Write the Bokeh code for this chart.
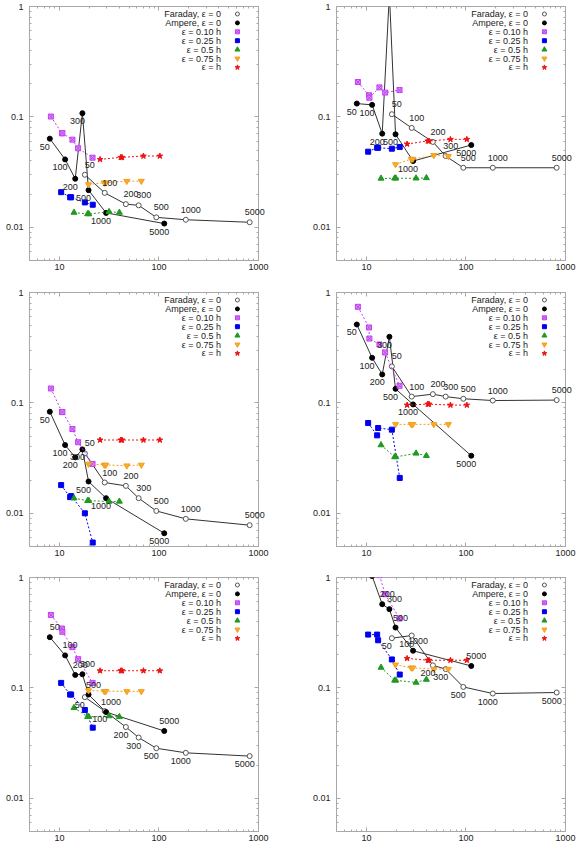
from bokeh.plotting import figure
from bokeh.layouts import gridplot
from bokeh.models import FixedTicker, LogAxis, Range1d, LinearScale
from bokeh.core.properties import value
from bokeh.embed import file_html
from bokeh.resources import INLINE

# mesh sizes that annotate the Faraday / Ampere curves
N_LABELS = ["50", "100", "200", "300", "500", "1000", "5000"]

# abscissae of each series (shared by the six panels)
FARADAY_X = [18.0, 28.5, 46.5, 62.5, 94.0, 186.0, 815.0]
AMPERE_X = [8.0, 11.4, 14.4, 17.0, 19.6, 29.4, 113.0]
EPS010_X = [8.2, 10.6, 10.7, 13.5, 15.4, 21.5]
EPS025_X = [10.4, 12.8, 13.1, 18.0, 21.6]
EPS050_X = [14.0, 19.2, 19.7, 31.5, 40.0]
EPS075_X = [19.6, 28.2, 29.2, 47.5, 66.5]
EPSH_X = [25.6, 41.3, 42.5, 69.8, 102.0]

# ordinates, one row per panel (row-major: top-left, top-right, ...)
FARADAY_Y = [
    [0.0299, 0.0205, 0.0162, 0.0158, 0.0123, 0.0117, 0.0111],
    [0.1057, 0.0794, 0.0593, 0.0442, 0.0346, 0.0346, 0.0346],
    [0.0349, 0.0190, 0.0177, 0.0137, 0.0105, 0.0089, 0.0078],
    [0.214, 0.114, 0.120, 0.114, 0.109, 0.105, 0.106],
    [0.0824, 0.0616, 0.0442, 0.0355, 0.0284, 0.0258, 0.0241],
    [0.282, 0.298, 0.160, 0.148, 0.102, 0.0889, 0.0908],
]
AMPERE_Y = [
    [0.0635, 0.0412, 0.0275, 0.108, 0.0217, 0.0135, 0.0108],
    [0.132, 0.1285, 0.0705, 1.3, 0.0695, 0.0398, 0.0556],
    [0.0832, 0.0415, 0.0321, 0.0379, 0.0194, 0.0137, 0.00659],
    [0.513, 0.256, 0.181, 0.397, 0.134, 0.0969, 0.0332],
    [0.288, 0.197, 0.131, 0.133, 0.087, 0.0604, 0.0407],
    [1.8, 1.03, 0.573, 0.517, 0.352, 0.217, 0.158],
]
EPS010_Y = [
    [0.1007, 0.0711, 0.0711, 0.0622, 0.0519, 0.0427],
    [0.207, 0.157, 0.149, 0.185, 0.166, 0.175],
    [0.135, 0.0826, 0.0826, 0.058, 0.044, 0.028],
    [0.742, 0.482, 0.383, 0.338, 0.286, 0.143],
    [0.458, 0.345, 0.322, 0.234, 0.182, 0.111],
    [3.0, 2.2, 2.0, 1.05, 0.706, 0.425],
]
EPS025_Y = [
    [0.0208, 0.0187, 0.0187, 0.0168, 0.0160],
    [0.0484, 0.0526, 0.0526, 0.0515, 0.0534],
    [0.0180, 0.0140, 0.0143, 0.0100, 0.00543],
    [0.0657, 0.0508, 0.0592, 0.0572, 0.0209],
    [0.111, 0.087, 0.087, 0.063, 0.0436],
    [0.304, 0.304, 0.270, 0.181, 0.132],
]
EPS050_Y = [
    [0.0136, 0.0132, 0.0132, 0.0138, 0.0136],
    [0.0277, 0.0278, 0.0278, 0.0278, 0.0280],
    [0.0137, 0.0130, 0.0130, 0.0128, 0.0128],
    [0.0415, 0.0324, 0.0324, 0.0349, 0.0332],
    [0.066, 0.0548, 0.0548, 0.0556, 0.0547],
    [0.153, 0.117, 0.117, 0.112, 0.119],
]
EPS075_Y = [
    [0.0244, 0.0253, 0.0253, 0.0262, 0.0262],
    [0.0371, 0.0415, 0.0415, 0.0449, 0.0439],
    [0.0280, 0.0274, 0.0274, 0.0270, 0.0274],
    [0.0639, 0.0639, 0.0639, 0.0639, 0.0639],
    [0.0946, 0.0933, 0.0933, 0.0930, 0.0930],
    [0.162, 0.152, 0.152, 0.148, 0.148],
]
EPSH_Y = [
    [0.0412, 0.0430, 0.0430, 0.0442, 0.0442],
    [0.0568, 0.0605, 0.0605, 0.0626, 0.0626],
    [0.0461, 0.0461, 0.0461, 0.0461, 0.0461],
    [0.0955, 0.0975, 0.0975, 0.0955, 0.0955],
    [0.143, 0.143, 0.143, 0.143, 0.143],
    [0.185, 0.178, 0.178, 0.178, 0.178],
]

LEGEND_LABELS = ["Faraday, \u03b5 = 0", "Ampere, \u03b5 = 0", "\u03b5 = 0.10 h",
                 "\u03b5 = 0.25 h", "\u03b5 = 0.5 h", "\u03b5 = 0.75 h", "\u03b5 = h"]

FONT = value("Liberation Sans")
FRAME = "#a8a8a8"
TEXT = "#222222"
Y_TOP = 1.0

# styling of the coloured ε series: (x, y rows, marker, size, fill, line)
EPS_SERIES = [
    (EPS010_X, EPS010_Y, "square_x", 5, "#e08cff", "#c040f0"),
    (EPS025_X, EPS025_Y, "square", 5, "#0000ee", "#0000ee"),
    (EPS050_X, EPS050_Y, "triangle", 6, "#229922", "#229922"),
    (EPS075_X, EPS075_Y, "inverted_triangle", 6, "#ffaa22", "#f0a020"),
    (EPSH_X, EPSH_Y, "star", 6, "#ee1111", "#ee1111"),
]

X_MAJOR = [10, 100, 1000]
X_MINOR = ([m for m in range(5, 10)] + [m * 10 for m in range(2, 10)]
           + [m * 100 for m in range(2, 10)])
Y_MAJOR = [0.01, 0.1, 1]
Y_MINOR = ([m * 0.001 for m in range(5, 10)] + [m * 0.01 for m in range(2, 10)]
           + [m * 0.1 for m in range(2, 10)])


def style_axis(ax, labels=True):
    ax.axis_line_color = None
    ax.major_tick_in = 4
    ax.major_tick_out = 0
    ax.minor_tick_in = 2
    ax.minor_tick_out = 0
    ax.major_tick_line_color = FRAME
    ax.minor_tick_line_color = FRAME
    if labels:
        ax.major_label_text_font_size = "9px"
        ax.major_label_text_font = "Liberation Sans"
        ax.major_label_text_color = TEXT
    else:
        # mirrored tick marks only
        ax.major_label_text_font_size = "1px"
        ax.major_label_text_alpha = 0
        ax.major_label_standoff = 0


def mesh_labels(p, xs, ys, dx, dy):
    # annotate each point inside the vertical range with its mesh size; the
    # overlay level lets labels near the right edge run past the frame
    keep = [k for k, y in enumerate(ys) if y <= Y_TOP]
    p.text([xs[k] for k in keep], [ys[k] for k in keep],
           text=[N_LABELS[k] for k in keep],
           x_offset=dx, y_offset=-dy, level="overlay",
           text_align="center", text_baseline="middle",
           text_font=FONT, text_font_size="9px", text_color=TEXT)


def make_panel(i):
    col = i % 2
    row = i // 2
    p = figure(
        width=291, height=285,
        x_axis_type="log", y_axis_type="log",
        x_range=Range1d(5, 1000), y_range=Range1d(0.005, Y_TOP),
        output_backend="svg", toolbar_location=None,
        min_border_left=29 if col == 0 else 45,
        min_border_right=33 if col == 0 else 17,
        min_border_top=6 if row == 0 else 7,
        min_border_bottom=25 if row == 0 else 24,
    )
    p.grid.visible = False
    p.outline_line_color = FRAME
    p.outline_line_width = 1
    p.background_fill_color = "white"
    p.border_fill_color = "white"

    p.xaxis.ticker = FixedTicker(ticks=X_MAJOR, minor_ticks=X_MINOR)
    p.yaxis.ticker = FixedTicker(ticks=Y_MAJOR, minor_ticks=Y_MINOR)
    p.xaxis.major_label_overrides = {10: "10", 100: "100", 1000: "1000"}
    p.yaxis.major_label_overrides = {0.01: "0.01", 0.1: "0.1", 1: "1"}
    style_axis(p.xaxis[0])
    style_axis(p.yaxis[0])
    p.xaxis.major_label_standoff = 3
    p.yaxis.major_label_standoff = 6

    top = LogAxis(ticker=FixedTicker(ticks=X_MAJOR, minor_ticks=X_MINOR))
    right = LogAxis(ticker=FixedTicker(ticks=Y_MAJOR, minor_ticks=Y_MINOR))
    style_axis(top, labels=False)
    style_axis(right, labels=False)
    p.add_layout(top, "above")
    p.add_layout(right, "right")

    # Faraday and Ampere curves
    p.line(FARADAY_X, FARADAY_Y[i], line_color="#333333", line_width=1)
    p.line(AMPERE_X, AMPERE_Y[i], line_color="#333333", line_width=1)
    p.scatter(FARADAY_X, FARADAY_Y[i], marker="circle", size=5,
              fill_color="white", line_color="#555555", line_width=1)
    p.scatter(AMPERE_X, AMPERE_Y[i], marker="circle", size=5,
              fill_color="black", line_color="black")

    # coloured ε series
    for xs, ys, marker, size, fill, line in EPS_SERIES:
        p.line(xs, ys[i], line_color=line, line_width=1, line_dash="2 2")
        p.scatter(xs, ys[i], marker=marker, size=size,
                  fill_color=fill, line_color=line, line_width=1)

    # mesh-size labels: the lower row swaps which curve is labelled above
    above = (5, 10)
    below = (-5, -8)
    far_off, amp_off = (above, below) if row < 2 else (below, above)
    mesh_labels(p, FARADAY_X, FARADAY_Y[i], *far_off)
    mesh_labels(p, AMPERE_X, AMPERE_Y[i], *amp_off)

    # key in frame-fraction coordinates: right-aligned text, marker after it
    p.extra_x_ranges = {"frac": Range1d(0, 1)}
    p.extra_y_ranges = {"frac": Range1d(0, 1)}
    p.extra_x_scales = {"frac": LinearScale()}
    p.extra_y_scales = {"frac": LinearScale()}
    n = len(LEGEND_LABELS)
    ky = [1 - (7.5 + 8.9 * k) / 254 for k in range(n)]
    p.text([0.836] * n, ky, text=LEGEND_LABELS, text_align="right",
           text_baseline="middle", text_font=FONT, text_font_size="9px",
           text_color=TEXT, x_range_name="frac", y_range_name="frac")
    p.scatter([0.908], [ky[0]], marker="circle", size=4, fill_color="white",
              line_color="#555555", x_range_name="frac", y_range_name="frac")
    p.scatter([0.908], [ky[1]], marker="circle", size=4, fill_color="black",
              line_color="black", x_range_name="frac", y_range_name="frac")
    for k, (_, _, marker, size, fill, line) in enumerate(EPS_SERIES):
        p.scatter([0.908], [ky[k + 2]], marker=marker, size=size - 1,
                  fill_color=fill, line_color=line,
                  x_range_name="frac", y_range_name="frac")
    return p


panels = [make_panel(i) for i in range(6)]
grid = gridplot([panels[0:2], panels[2:4], panels[4:6]], toolbar_location=None)

open("out.html", "w").write(file_html(grid, INLINE))
